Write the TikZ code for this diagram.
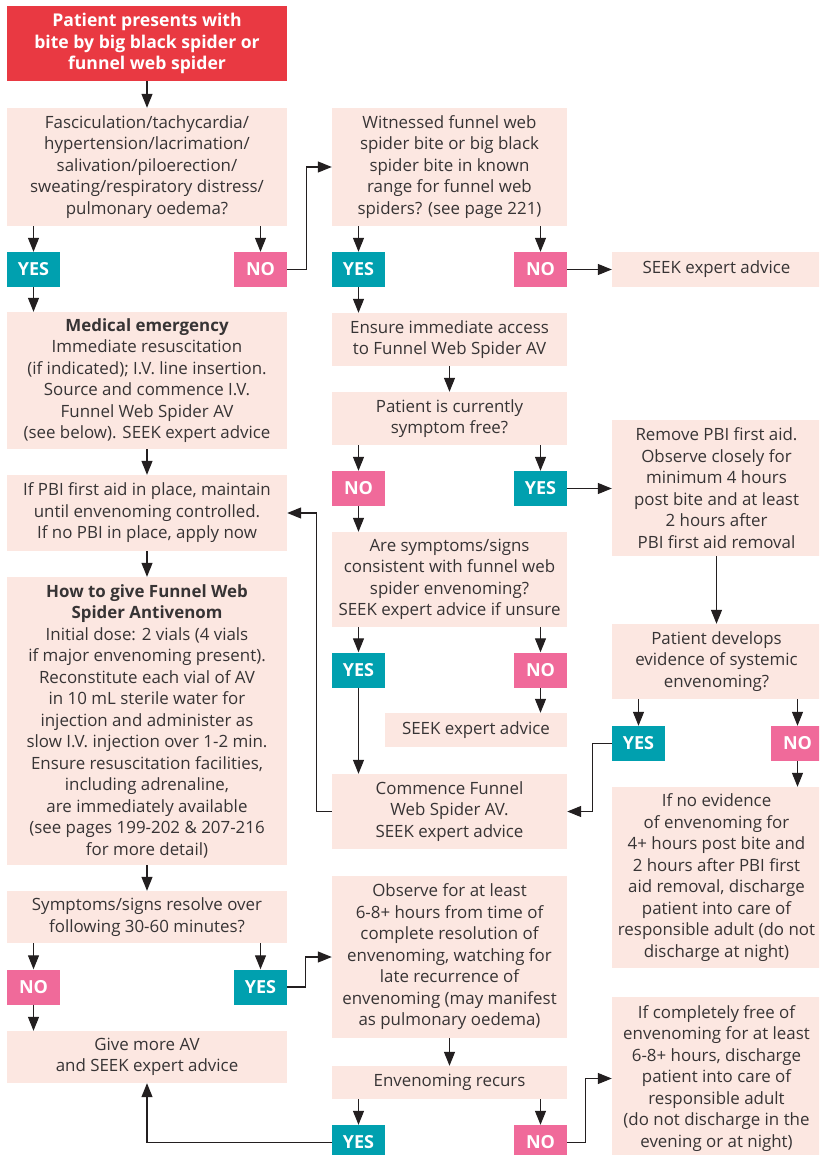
\documentclass[tikz,border=0pt]{standalone}
\usepackage{fontspec}
\setmainfont{Open Sans}
\usetikzlibrary{arrows.meta,calc}

\definecolor{boxfill}{RGB}{252,231,225}
\definecolor{yescol}{RGB}{0,160,175}
\definecolor{nocol}{RGB}{240,106,154}
\definecolor{startcol}{RGB}{233,57,66}
\definecolor{txt}{RGB}{55,52,53}
\definecolor{linecol}{RGB}{35,31,32}

\tikzset{
  box/.style={fill=boxfill, text=txt, align=center, inner sep=0pt,
    font=\fontsize{16.9}{21.5}\selectfont},
  startbox/.style={fill=startcol, text=white, align=center, inner sep=0pt,
    font=\bfseries\fontsize{17.6}{21.5}\selectfont},
  tag/.style={text=white, inner sep=0pt, minimum width=53pt, minimum height=35pt,
    font=\bfseries\fontsize{18}{20}\selectfont},
  yesbox/.style={tag, fill=yescol},
  nobox/.style={tag, fill=nocol},
  link/.style={draw=linecol, line width=1.2pt, -{Triangle[length=14pt,width=11pt]}},
}

\begin{document}
\begin{tikzpicture}[x=1pt, y=-1pt]
\useasboundingbox (0,0) rectangle (819,1155);
\clip (0,0) rectangle (819,1155);

% ---- left column ----
\node[startbox, minimum width=280pt, minimum height=75pt] (start) at (147,43.5)
  {Patient presents with\\bite by big black spider or\\funnel web spider};
\node[box, minimum width=280pt, minimum height=118pt] (fasc) at (147,167)
  {Fasciculation/tachycardia/\\hypertension/lacrimation/\\salivation/piloerection/\\sweating/respiratory distress/\\pulmonary oedema?};
\node[yesbox] (yesA) at (33.5,269.5) {YES};
\node[nobox] (noA) at (260.5,269.5) {NO};
\node[box, minimum width=280pt, minimum height=137pt] (emerg) at (147,380.5)
  {\textbf{Medical emergency}\\Immediate resuscitation\\(if indicated); I.V. line insertion.\\Source and commence I.V.\\Funnel Web Spider AV\\(see below). SEEK expert advice};
\node[box, minimum width=280pt, minimum height=76pt] (pbi) at (147,513)
  {If PBI first aid in place, maintain\\until envenoming controlled.\\If no PBI in place, apply now};
\node[box, minimum width=280pt, minimum height=288pt] (howto) at (147,721)
  {\textbf{How to give Funnel Web}\\\textbf{Spider Antivenom}\\Initial dose: 2 vials (4 vials\\if major envenoming present).\\Reconstitute each vial of AV\\in 10 mL sterile water for\\injection and administer as\\slow I.V. injection over 1-2 min.\\Ensure resuscitation facilities,\\including adrenaline,\\are immediately available\\(see pages 199-202 \& 207-216\\for more detail)};
\node[box, minimum width=280pt, minimum height=52pt] (resolve) at (147,917)
  {Symptoms/signs resolve over\\following 30-60 minutes?};
\node[nobox] (noB) at (33.5,987) {NO};
\node[yesbox] (yesB) at (260.5,987) {YES};
\node[box, minimum width=280pt, minimum height=52pt] (more) at (147,1057)
  {Give more AV\\and SEEK expert advice};

% ---- middle column ----
\node[box, minimum width=235pt, minimum height=118pt] (witness) at (449.5,167)
  {Witnessed funnel web\\spider bite or big black\\spider bite in known\\range for funnel web\\spiders? (see page 221)};
\node[yesbox] (yesC) at (358.5,269.5) {YES};
\node[nobox] (noC) at (540.5,269.5) {NO};
\node[box, minimum width=235pt, minimum height=53pt] (access) at (449.5,339.5)
  {Ensure immediate access\\to Funnel Web Spider AV};
\node[box, minimum width=235pt, minimum height=53pt] (free) at (449.5,418.5)
  {Patient is currently\\symptom free?};
\node[nobox] (noD) at (358.5,488.5) {NO};
\node[yesbox] (yesD) at (540.5,488.5) {YES};
\node[box, minimum width=235pt, minimum height=95pt] (consist) at (449.5,579.5)
  {Are symptoms/signs\\consistent with funnel web\\spider envenoming?\\SEEK expert advice if unsure};
\node[yesbox] (yesE) at (358.5,670) {YES};
\node[nobox] (noE) at (540.5,670) {NO};
\node[box, minimum width=182pt, minimum height=34pt] (seekB) at (476,730)
  {SEEK expert advice};
\node[box, minimum width=235pt, minimum height=75pt] (commence) at (449.5,811.5)
  {Commence Funnel\\Web Spider AV.\\SEEK expert advice};
\node[box, minimum width=235pt, minimum height=162pt] (observe) at (449.5,957)
  {Observe for at least\\6-8+ hours from time of\\complete resolution of\\envenoming, watching for\\late recurrence of\\envenoming (may manifest\\as pulmonary oedema)};
\node[box, minimum width=235pt, minimum height=33pt] (recurs) at (449.5,1082.5)
  {Envenoming recurs};
\node[yesbox] (yesF) at (358.5,1142.5) {YES};
\node[nobox] (noF) at (540.5,1142.5) {NO};

% ---- right column ----
\node[box, minimum width=209pt, minimum height=35pt] (seekA) at (716.5,269.5)
  {SEEK expert advice};
\node[box, minimum width=209pt, minimum height=136pt] (remove) at (716.5,488)
  {Remove PBI first aid.\\Observe closely for\\minimum 4 hours\\post bite and at least\\2 hours after\\PBI first aid removal};
\node[box, minimum width=209pt, minimum height=75pt] (develop) at (716.5,661.5)
  {Patient develops\\evidence of systemic\\envenoming?};
\node[yesbox] (yesG) at (638.5,743.5) {YES};
\node[nobox] (noG) at (797.5,743.5) {NO};
\node[box, minimum width=209pt, minimum height=181pt] (noevid) at (716.5,877.5)
  {If no evidence\\of envenoming for\\4+ hours post bite and\\2 hours after PBI first\\aid removal, discharge\\patient into care of\\responsible adult (do not\\discharge at night)};
\node[box, minimum width=209pt, minimum height=163pt] (clear) at (716.5,1078.5)
  {If completely free of\\envenoming for at least\\6-8+ hours, discharge\\patient into care of\\responsible adult\\(do not discharge in the\\evening or at night)};

% ---- connectors ----
\draw[link] (start) -- (fasc);
\draw[link] (fasc.south -| yesA) -- (yesA);
\draw[link] (fasc.south -| noA) -- (noA);
\draw[link] (yesA) -- (yesA |- emerg.north);
\draw[link] (noA.east) -- ++(19,0) |- (witness.west);
\draw[link] (emerg) -- (pbi);
\draw[link] (pbi) -- (howto);
\draw[link] (howto) -- (resolve);
\draw[link] (resolve.south -| noB) -- (noB);
\draw[link] (resolve.south -| yesB) -- (yesB);
\draw[link] (noB) -- (noB |- more.north);
\draw[link] (yesB.east) -- ++(18,0) |- (observe.west);

\draw[link] (witness.south -| yesC) -- (yesC);
\draw[link] (witness.south -| noC) -- (noC);
\draw[link] (noC) -- (seekA);
\draw[link] (yesC) -- (yesC |- access.north);
\draw[link] (access) -- (free);
\draw[link] (free.south -| noD) -- (noD);
\draw[link] (free.south -| yesD) -- (yesD);
\draw[link] (yesD.east) -- (yesD.east -| remove.west);
\draw[link] (noD) -- (noD |- consist.north);
\draw[link] (consist.south -| yesE) -- (yesE);
\draw[link] (consist.south -| noE) -- (noE);
\draw[link] (noE) -- (noE |- seekB.north);
\draw[link] (yesE) -- (yesE |- commence.north);
\draw[link] (commence.west) -- ++(-15,0) |- (pbi.east);
\draw[link] (observe) -- (recurs);
\draw[link] (recurs.south -| yesF) -- (yesF);
\draw[link] (recurs.south -| noF) -- (noF);
\draw[link] (yesF.west) -| (more.south);
\draw[link] (noF.east) -- ++(18,0) |- (clear.west);

\draw[link] (remove) -- (develop);
\draw[link] (develop.south -| yesG) -- (yesG);
\draw[link] (develop.south -| noG) -- (noG);
\draw[link] (noG) -- (noG |- noevid.north);
\draw[link] (yesG.west) -- ++(-19,0) |- (commence.east);
\end{tikzpicture}
\end{document}
